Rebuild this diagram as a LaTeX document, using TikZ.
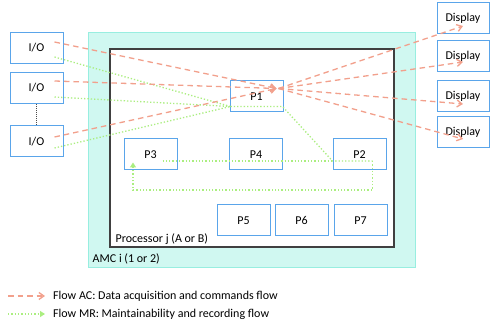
\documentclass[tikz,border=0pt]{standalone}
\usepackage{fontspec}
\setmainfont{Carlito}
\usetikzlibrary{arrows.meta}
\definecolor{boxblue}{HTML}{5AA5EA}
\definecolor{acred}{HTML}{F2A08C}
\definecolor{mrgreen}{HTML}{ABEE80}
\definecolor{amcfill}{HTML}{D0F8F1}
\definecolor{amcline}{HTML}{98EEE0}
\begin{document}
\begin{tikzpicture}[x=1pt, y=-1pt, font=\fontsize{12}{14}\selectfont]
  \useasboundingbox (0,0) rectangle (491,331);
  \tikzstyle{unit}=[draw=boxblue, line width=1pt, fill=white, minimum width=53pt, minimum height=31pt, inner sep=0pt]
  \tikzstyle{disp}=[unit, minimum width=52pt]
  \tikzstyle{ac}=[draw=acred, line width=1.3pt, dash pattern=on 5.5pt off 4pt, -{Straight Barb[length=5pt,width=7pt]}]
  \tikzstyle{mr}=[draw=mrgreen, line width=1.3pt, dotted]
  \tikzstyle{mrtip}=[mr, -{Triangle[length=5pt,width=6pt]}]

  % AMC und Prozessor
  \node[draw=amcline, fill=amcfill, line width=1pt, minimum width=327pt, minimum height=235pt, inner sep=0pt] (amc) at (251.5,150.5) {};
  \node[draw=black!75, fill=white, line width=1.2pt, minimum width=284pt, minimum height=198pt, inner sep=0pt] (proc) at (252,148) {};
  \node[anchor=south west, inner sep=1pt] (amclabel) at ([shift={(4,-3)}]amc.south west) {AMC i (1 or 2)};
  \node[anchor=south west, inner sep=1pt] (proclabel) at ([shift={(5,-2)}]proc.south west) {Processor j (A or B)};

  \node[unit] (io1) at (36.5,48)    {I/O};
  \node[unit] (io2) at (36.5,88)    {I/O};
  \node[unit] (io3) at (36.5,141.5) {I/O};

  \node[unit] (p1) at (256.5,96.5)  {P1};
  \node[unit] (p3) at (150.5,154.5) {P3};
  \node[unit] (p4) at (256,154.5)   {P4};
  \node[unit] (p2) at (359.5,154.5) {P2};
  \node[unit] (p5) at (243.5,220.5) {P5};
  \node[unit] (p6) at (301.5,220.5) {P6};
  \node[unit] (p7) at (360.5,220.5) {P7};

  \node[disp] (d1) at (463,18)    {Display};
  \node[disp] (d2) at (463,56)    {Display};
  \node[disp] (d3) at (463,96)    {Display};
  \node[disp] (d4) at (463,132.5) {Display};

  \coordinate (acin)  at ([shift={(20,-8)}]p1.center);
  \coordinate (acout) at ([shift={(22,-8)}]p1.center);
  \coordinate (mrin)  at ([shift={(-26,10)}]p1.center);

  \draw[black!70, densely dotted, line width=1pt] (io2) -- (io3);

  % Flow MR
  \path (io1.center) ++(18,9)   coordinate (g1) (g1) edge[mr] (mrin);
  \path (io2.center) ++(18,9)   coordinate (g2) (g2) edge[mr] (mrin);
  \path (io3.center) ++(18,6.5) coordinate (g3) (g3) edge[mr] (mrin);
  \draw[mr] (mrin) -- ([shift={(26,10)}]p1.center) -- ([shift={(-27,6.5)}]p2.center) -- ([shift={(13,6.5)}]p2.center);
  \draw[mr] ([shift={(12,6.5)}]p3.center) -- ([shift={(-27,6.5)}]p2.center);
  \draw[mrtip] ([shift={(13,6.5)}]p2.center) -- ++(0,29) -| ([shift={(-17.5,8)}]p3.center);

  % Flow AC
  \path (io1.center) ++(18,-6)   coordinate (r1) (r1) edge[ac] (acin);
  \path (io2.center) ++(18,-7)   coordinate (r2) (r2) edge[ac] (acin);
  \path (io3.center) ++(18,-4.5) coordinate (r3) (r3) edge[ac] (acin);
  \path (acout) edge[ac] ([yshift=-8]d1.center);
  \path (acout) edge[ac] ([yshift=-6]d2.center);
  \path (acout) edge[ac] ([yshift=-8]d3.center);
  \path (acout) edge[ac] ([yshift=-6.5]d4.center);

  % Legende
  \coordinate (la1) at (8,296);
  \coordinate (la2) at (45,296);
  \coordinate (lm1) at (8,314);
  \coordinate (lm2) at (45,314);
  \path (la1) edge[ac] (la2);
  \path (lm1) edge[mrtip] (lm2);
  \node[anchor=west, inner sep=0pt] (legac) at (53,296) {Flow AC: Data acquisition and commands flow};
  \node[anchor=west, inner sep=0pt] (legmr) at (53,314) {Flow MR: Maintainability and recording flow};
\end{tikzpicture}
\end{document}
